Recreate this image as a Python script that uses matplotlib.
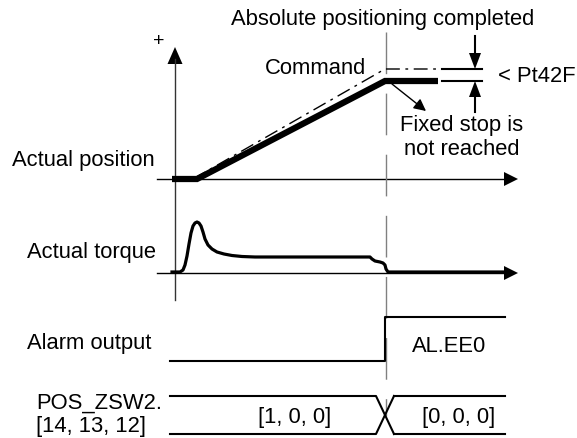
# timing diagram: absolute positioning, fixed stop not reached
import matplotlib.pyplot as plt

plt.rcParams['font.family'] = ['Liberation Sans', 'DejaVu Sans']
plt.rcParams['lines.scale_dashes'] = False

# signal shapes (pixel coords of the drawing, y down)
pos_x = [172, 197, 385, 438]
pos_y = [180, 180, 82, 82]
cmd_x = [193, 385, 440]
cmd_y = [180, 70, 70]
torque_x = [172, 180, 183, 185, 187, 189, 191, 193, 195, 197, 199, 201, 203, 205, 208, 212,
            217, 224, 232, 242, 255, 370, 372, 375, 380, 383, 385, 386, 388, 392, 505]
torque_y = [273, 273, 271, 266, 257, 245, 234, 227, 224, 223, 224, 227, 233, 240, 246, 250,
            253, 255, 256.5, 257.5, 258, 258, 260, 262, 263, 264, 266, 270, 273, 273, 273]
alarm_x = [170, 385, 385, 505]
alarm_y = [362, 362, 318, 318]
bus_top, bus_bot = 397, 435
bus_x = [170, 376, 394, 505]
bus_labels = ["[1, 0, 0]", "[0, 0, 0]"]
row_labels = ["Actual position", "Actual torque", "Alarm output", "POS_ZSW2.\n[14, 13, 12]"]

FS = 15.8

fig = plt.figure(figsize=(5.77, 4.39), dpi=100)
ax = fig.add_axes([0, 0, 1, 1])
ax.set_xlim(0, 577)
ax.set_ylim(439, 0)
ax.axis('off')

def head(x, y, d, L=14, W=7):
    # filled triangle arrow head, tip at (x, y)
    if d == 'r':
        ax.fill([x, x - L, x - L], [y, y - W, y + W], color='black', lw=0)
    elif d == 'u':
        ax.fill([x, x - W, x + W], [y, y + L, y + L], color='black', lw=0)
    elif d == 'd':
        ax.fill([x, x - W, x + W], [y, y - L, y - L], color='black', lw=0)

# axes
ax.plot([175, 175], [60, 301], color='#333333', lw=1.0)
head(175, 48, 'u', L=17, W=7.5)
ax.plot([157, 505], [180, 180], color='black', lw=1.0)
head(518, 180, 'r')
ax.plot([157, 505], [274, 274], color='black', lw=1.0)
head(518, 274, 'r')
ax.text(159, 41, "+", fontsize=14, ha='center', va='center')

# completion marker
ax.plot([386, 386], [33, 417], color='#808080', lw=1.0, dashes=(30, 14))
ax.text(383, 19, "Absolute positioning completed", fontsize=FS, ha='center', va='center')

# position + command
ax.plot(cmd_x, cmd_y, color='black', lw=1.0, dashes=(10, 4, 2, 4))
ax.plot(pos_x, pos_y, color='black', lw=4.5, solid_capstyle='butt', solid_joinstyle='miter')
ax.text(315, 69, "Command", fontsize=FS, ha='center', va='center')

# Pt42F window
ax.plot([442, 482], [70, 70], color='black', lw=1.5)
ax.plot([442, 482], [82, 82], color='black', lw=1.5)
ax.plot([475, 475], [37, 56], color='black', lw=1.5)
head(475, 70, 'd', L=16, W=6)
ax.plot([475, 475], [96, 113], color='black', lw=1.5)
head(475, 82, 'u', L=16, W=6)
ax.text(498, 77, "< Pt42F", fontsize=FS, ha='left', va='center')

ax.annotate("", xy=(426, 112), xytext=(392, 85),
            arrowprops=dict(arrowstyle='-|>', color='black', lw=1.0,
                            mutation_scale=18, shrinkA=0, shrinkB=0))
ax.text(462, 126, "Fixed stop is", fontsize=FS, ha='center', va='center')
ax.text(462, 150, "not reached", fontsize=FS, ha='center', va='center')

# torque
ax.plot(torque_x, torque_y, color='black', lw=2.3, solid_joinstyle='round')

# alarm
ax.plot(alarm_x, alarm_y, color='black', lw=1.5)
ax.text(449, 347, "AL.EE0", fontsize=FS, ha='center', va='center')

# bus with crossover
ax.plot([bus_x[0], bus_x[1], bus_x[2]], [bus_top, bus_top, bus_bot], color='black', lw=1.5)
ax.plot([bus_x[0], bus_x[1], bus_x[2]], [bus_bot, bus_bot, bus_top], color='black', lw=1.5)
ax.plot([bus_x[2], bus_x[3]], [bus_top, bus_top], color='black', lw=1.5)
ax.plot([bus_x[2], bus_x[3]], [bus_bot, bus_bot], color='black', lw=1.5)
ax.text(295, 418, bus_labels[0], fontsize=FS, ha='center', va='center')
ax.text(459, 418, bus_labels[1], fontsize=FS, ha='center', va='center')

# row labels
ax.text(12, 161, row_labels[0], fontsize=FS, ha='left', va='center')
ax.text(27, 253, row_labels[1], fontsize=FS, ha='left', va='center')
ax.text(27, 344, row_labels[2], fontsize=FS, ha='left', va='center')
ax.text(36, 415, row_labels[3], fontsize=FS, ha='left', va='center', linespacing=1.15)

fig.savefig("out.png", dpi=100)
